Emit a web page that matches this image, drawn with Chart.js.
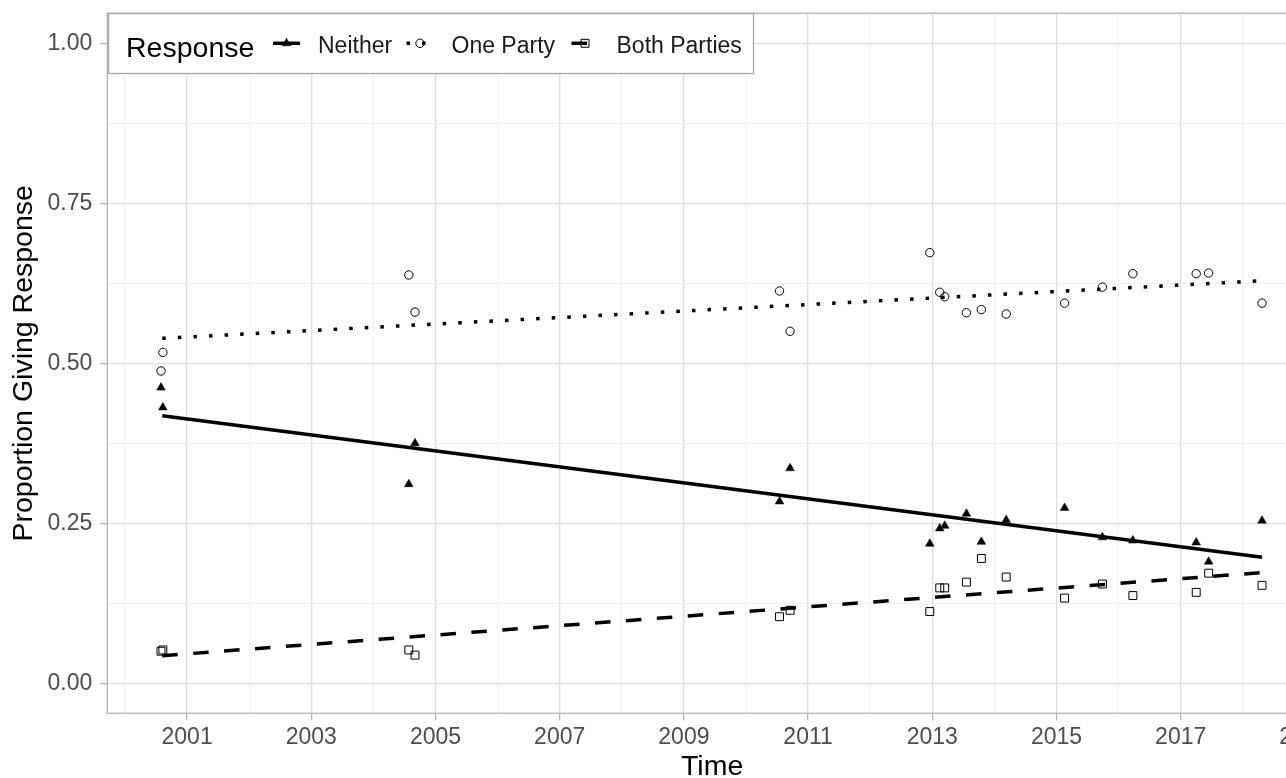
<!DOCTYPE html>
<html>
<head>
<meta charset="utf-8">
<script src="https://cdn.jsdelivr.net/npm/chart.js@4/dist/chart.umd.min.js"></script>
<style>
  html, body { margin: 0; padding: 0; background: #fff; overflow: hidden; }
  canvas { display: block; }
</style>
</head>
<body>
<canvas id="chart" width="1345" height="778"></canvas>
<script>
const FONT = "'Liberation Sans', Arial, sans-serif";

// Survey dates (decimal years) and share giving each response
const surveyTimes = [2000.58, 2000.61, 2004.57, 2004.67, 2010.54, 2010.71, 2012.96, 2013.12, 2013.20,
  2013.55, 2013.79, 2014.19, 2015.13, 2015.74, 2016.23, 2017.25, 2017.45, 2018.31];
const neither = [0.462, 0.431, 0.311, 0.375, 0.284, 0.336, 0.218, 0.242, 0.246,
  0.265, 0.221, 0.255, 0.274, 0.228, 0.223, 0.220, 0.190, 0.254];
const oneParty = [0.488, 0.517, 0.638, 0.580, 0.613, 0.550, 0.673, 0.611, 0.604,
  0.579, 0.584, 0.577, 0.594, 0.619, 0.640, 0.640, 0.641, 0.594];
const bothParties = [0.050, 0.052, 0.052, 0.044, 0.104, 0.114, 0.112, 0.149, 0.149,
  0.158, 0.195, 0.166, 0.133, 0.155, 0.137, 0.142, 0.172, 0.153];

// Linear fit ends
const fitTimes = [2000.60, 2018.31];
const neitherFit = [0.418, 0.197];
const onePartyFit = [0.539, 0.629];
const bothPartiesFit = [0.043, 0.173];

const responses = ['Neither', 'One Party', 'Both Parties'];
const legendTitle = 'Response';
const xTickYears = [2000, 2001, 2002, 2003, 2004, 2005, 2006, 2007, 2008, 2009,
  2010, 2011, 2012, 2013, 2014, 2015, 2016, 2017, 2018, 2019];
const yTickValues = [0, 0.125, 0.25, 0.375, 0.5, 0.625, 0.75, 0.875, 1];

const pointStyles = ['triangle', 'circle', 'rect'];
const pointRadii = [5, 4.2, 5.6];
const pointFills = ['#000', 'rgba(0,0,0,0)', 'rgba(0,0,0,0)'];
const lineDashes = [[], [3.5, 12.1], [15.5, 15.5]];

const pts = (xs, ys) => xs.map((x, i) => ({ x: x, y: ys[i] }));

const series = [neither, oneParty, bothParties];
const fits = [neitherFit, onePartyFit, bothPartiesFit];

const datasets = [];
fits.forEach((f, i) => {
  datasets.push({
    label: responses[i] + ' fit',
    data: pts(fitTimes, f),
    showLine: true,
    borderColor: '#000',
    borderWidth: 3.5,
    borderDash: lineDashes[i],
    borderCapStyle: 'butt',
    pointRadius: 0
  });
});
series.forEach((s, i) => {
  datasets.push({
    label: responses[i],
    data: pts(surveyTimes, s),
    showLine: false,
    pointStyle: pointStyles[i],
    pointRadius: pointRadii[i],
    pointBackgroundColor: pointFills[i],
    pointBorderColor: '#000',
    pointBorderWidth: i === 0 ? 0.5 : 1
  });
});

const isMajorX = v => Math.round(v) % 2 === 1;
const isMajorY = v => Math.abs(v * 4 - Math.round(v * 4)) < 1e-6;

// ggplot-like panel border + legend inside the panel
const panelPlugin = {
  id: 'panel',
  afterDatasetsDraw(chart) {
    const { ctx, chartArea: a } = chart;
    ctx.save();
    ctx.strokeStyle = '#b3b3b3';
    ctx.lineWidth = 1.3;
    ctx.strokeRect(a.left, a.top, a.right - a.left, a.bottom - a.top);
    ctx.restore();
  },
  afterDraw(chart) {
    const ctx = chart.ctx;
    const keyX = [286.5, 420, 585];
    const keyY = 43.3;
    ctx.save();
    ctx.fillStyle = '#fff';
    ctx.strokeStyle = '#a6a6a6';
    ctx.lineWidth = 1.3;
    ctx.fillRect(108.5, 13.5, 645, 60);
    ctx.strokeRect(108.5, 13.5, 645, 60);

    ctx.fillStyle = '#000';
    ctx.textBaseline = 'alphabetic';
    ctx.textAlign = 'left';
    ctx.font = '28.5px ' + FONT;
    ctx.fillText(legendTitle, 126, 56.5);

    ctx.font = '23px ' + FONT;
    responses.forEach((name, i) => {
      const cx = keyX[i];
      ctx.strokeStyle = '#000';
      ctx.lineWidth = 3.5;
      ctx.lineCap = 'butt';
      ctx.setLineDash(lineDashes[i]);
      ctx.beginPath();
      ctx.moveTo(cx - 13.5, keyY);
      ctx.lineTo(cx + 13.5, keyY);
      ctx.stroke();
      ctx.setLineDash([]);
      ctx.fillStyle = pointFills[i];
      ctx.lineWidth = i === 0 ? 0.5 : 1;
      Chart.helpers.drawPoint(ctx, { pointStyle: pointStyles[i], radius: pointRadii[i], borderWidth: ctx.lineWidth, rotation: 0 }, cx, keyY);
      ctx.fillStyle = '#1a1a1a';
      ctx.fillText(name, cx + 31.5, 53.3);
    });
    ctx.restore();
  }
};

new Chart(document.getElementById('chart'), {
  type: 'scatter',
  data: { datasets: datasets },
  options: {
    responsive: false,
    animation: false,
    events: [],
    layout: { padding: { top: 13.3, right: 28, bottom: 0, left: 0 } },
    plugins: {
      legend: { display: false },
      tooltip: { enabled: false }
    },
    scales: {
      x: {
        type: 'linear',
        min: 1999.715,
        max: 2019.195,
        afterBuildTicks: s => { s.ticks = xTickYears.map(v => ({ value: v })); },
        afterFit: s => { s.height = 64.7; s.paddingLeft = 0; s.paddingRight = 0; },
        ticks: {
          autoSkip: false,
          maxRotation: 0,
          padding: 4,
          color: '#4d4d4d',
          font: { family: FONT, size: 23, lineHeight: 1.2 },
          callback: v => isMajorX(v) ? String(v) : ''
        },
        grid: {
          color: c => isMajorX(c.tick.value) ? '#dedede' : '#eeeeee',
          lineWidth: c => isMajorX(c.tick.value) ? 1.3 : 0.9,
          tickLength: 7,
          tickColor: c => isMajorX(c.tick.value) ? '#b3b3b3' : 'rgba(0,0,0,0)',
          tickWidth: 1.3
        },
        border: { display: false },
        title: {
          display: true,
          text: 'Time',
          color: '#000',
          font: { family: FONT, size: 28.5, lineHeight: 0.76 },
          padding: { top: 0, bottom: 0 }
        }
      },
      y: {
        type: 'linear',
        min: -0.047,
        max: 1.047,
        afterBuildTicks: s => { s.ticks = yTickValues.map(v => ({ value: v })); },
        afterFit: s => { s.width = 107.3; s.paddingTop = 0; s.paddingBottom = 0; },
        ticks: {
          autoSkip: false,
          padding: 8,
          color: '#4d4d4d',
          font: { family: FONT, size: 23, lineHeight: 1.2 },
          callback: v => isMajorY(v) ? v.toFixed(2) : ''
        },
        grid: {
          color: c => isMajorY(c.tick.value) ? '#dedede' : '#eeeeee',
          lineWidth: c => isMajorY(c.tick.value) ? 1.3 : 0.9,
          tickLength: 7,
          tickColor: c => isMajorY(c.tick.value) ? '#b3b3b3' : 'rgba(0,0,0,0)',
          tickWidth: 1.3
        },
        border: { display: false },
        title: {
          display: true,
          text: 'Proportion Giving Response',
          color: '#000',
          font: { family: FONT, size: 28.5, lineHeight: 1.2 },
          padding: { top: 7, bottom: 0 }
        }
      }
    }
  },
  plugins: [panelPlugin]
});
</script>
</body>
</html>
